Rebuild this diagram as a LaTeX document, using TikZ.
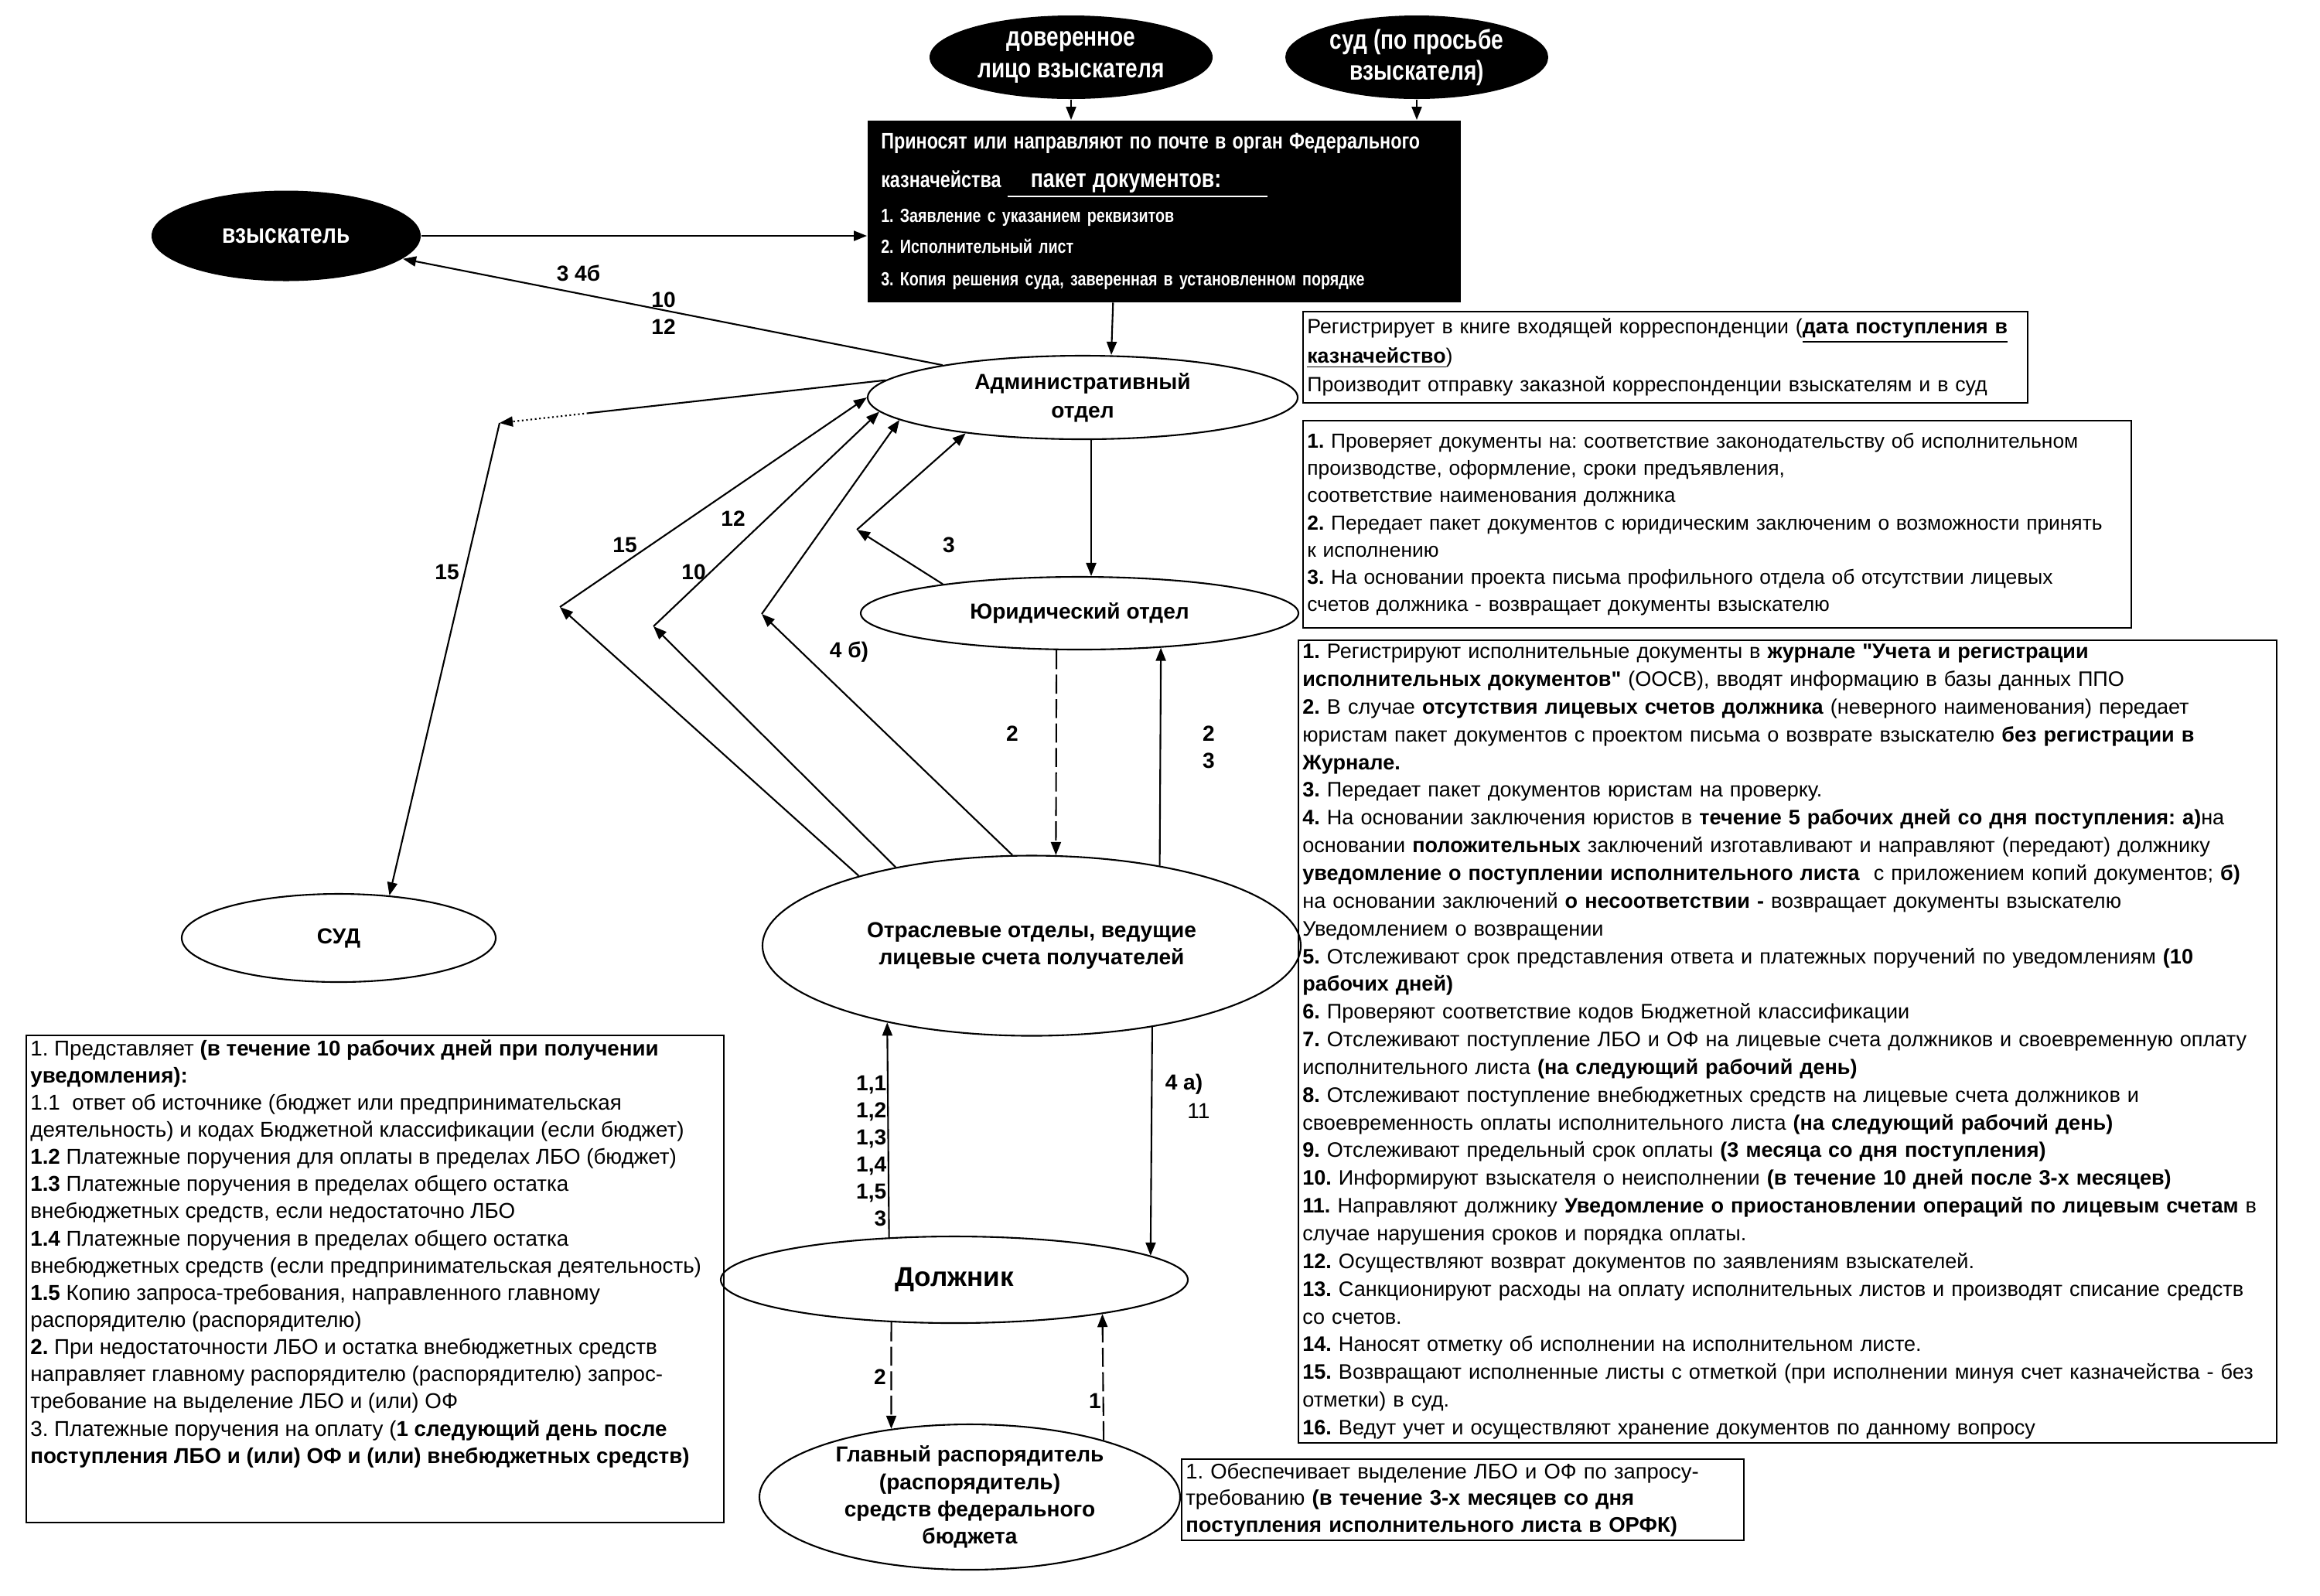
\documentclass[tikz,border=0pt]{standalone}
\usepackage{fontspec}
\setmainfont{Liberation Sans}
\newfontfamily\narrowfont[FakeStretch=0.8]{Liberation Sans}
\usetikzlibrary{shapes.geometric,arrows.meta,calc}
\frenchspacing
\newcommand\dq{{\addfontfeature{Ligatures=TeXOff}"}}

\begin{document}
\begin{tikzpicture}[x=1cm, y=-1cm,
  font=\fontsize{8}{10}\selectfont,
  every node/.style={align=center},
  ell/.style={ellipse, draw, line width=0.6pt, inner sep=0pt, font=\bfseries\fontsize{8}{10.5}\selectfont},
  blk/.style={ellipse, fill=black, text=white, inner sep=0pt, font=\narrowfont\bfseries\fontsize{10}{11.5}\selectfont},
  txt/.style={draw, line width=0.6pt, anchor=north west, align=left, inner xsep=1.5pt, inner ysep=1.5pt},
  lbl/.style={font=\bfseries\fontsize{8}{10}\selectfont, inner sep=0pt},
  arr/.style={-{Triangle[length=1.7mm, width=1.3mm]}, line width=0.6pt},
  darr/.style={arr, dash pattern=on 7pt off 2pt}]
\useasboundingbox (0,0) rectangle (30,20.63);

% ---------------- who brings the package ----------------
\node[blk, minimum width=3.66cm, minimum height=1.08cm] (dov) at (13.85,0.74) {доверенное\\лицо взыскателя};
\node[blk, minimum width=3.40cm, minimum height=1.08cm] (sudp) at (18.32,0.74) {суд (по просьбе\\взыскателя)};
\node[fill=black, text=white, anchor=north west, align=left, inner xsep=5pt, inner ysep=0pt,
  text width=7.32cm, minimum height=2.35cm, font=\narrowfont\bfseries\fontsize{7}{11.5}\selectfont] (pack) at (11.21,1.55)
  {{\fontsize{8.3}{10}\selectfont Приносят или направляют по почте в орган Федерального}\\[2.7pt]
   {\fontsize{8.3}{10}\selectfont казначейства} \underline{\hspace{0.3cm}{\fontsize{9.5}{10}\selectfont пакет документов:}\hspace{0.6cm}}\\[1.3pt]
   1. Заявление с указанием реквизитов\\
   2. Исполнительный лист\\[0.4pt]
   3. Копия решения суда, заверенная в установленном порядке};
\node[blk, minimum width=3.48cm, minimum height=1.17cm] (vzysk) at (3.70,3.05) {взыскатель};

% ---------------- treasury departments ----------------
\node[ell, minimum width=5.56cm, minimum height=1.08cm] (adm) at (14.0,5.14) {Административный\\отдел};
\node[txt, text width=9.26cm, minimum height=1.18cm, font=\fontsize{7.6}{10.7}\selectfont] (admtxt) at (16.84,4.02)
  {Регистрирует в книге входящей корреспонденции (\underline{\textbf{дата поступления в}}\\
   \underline{\textbf{казначейство}})\\
   Производит отправку заказной корреспонденции взыскателям и в суд};
\node[txt, text width=10.60cm, minimum height=2.68cm, font=\fontsize{7.5}{10}\selectfont] (jurtxt) at (16.84,5.43)
  {\textbf{1.} Проверяет документы на: соответствие законодательству об исполнительном\\
   производстве, оформление, сроки предъявления,\\
   соответствие наименования должника\\
   \textbf{2.} Передает пакет документов с юридическим заключеним о возможности принять\\
   к исполнению\\
   \textbf{3.} На основании проекта письма профильного отдела об отсутствии лицевых\\
   счетов должника - возвращает документы взыскателю};
\node[ell, minimum width=5.66cm, minimum height=0.94cm] (jur) at (13.96,7.93) {Юридический отдел};
\node[ell, minimum width=4.06cm, minimum height=1.14cm] (sud) at (4.38,12.13) {СУД};
\node[ell, minimum width=6.96cm, minimum height=2.33cm, font=\bfseries\fontsize{8}{10}\selectfont] (otr) at (13.34,12.23) {Отраслевые отделы, ведущие\\лицевые счета получателей};
\node[txt, text width=12.54cm, minimum height=10.38cm, inner ysep=0.5pt, font=\fontsize{7.7}{10.2}\selectfont] (otrtxt) at (16.78,8.27)
  {\textbf{1.} Регистрируют исполнительные документы в \textbf{журнале \dq Учета и регистрации}\\
   \textbf{исполнительных документов\dq} (ООСВ), вводят информацию в базы данных ППО\\
   \textbf{2.} В случае \textbf{отсутствия лицевых счетов должника} (неверного наименования) передает\\
   юристам пакет документов с проектом письма о возврате взыскателю \textbf{без регистрации в}\\
   \textbf{Журнале.}\\
   \textbf{3.} Передает пакет документов юристам на проверку.\\
   \textbf{4.} На основании заключения юристов в \textbf{течение 5 рабочих дней со дня поступления: а)}на\\
   основании \textbf{положительных} заключений изготавливают и направляют (передают) должнику\\
   \textbf{уведомление о поступлении исполнительного листа}\ \ с приложением копий документов; \textbf{б)}\\
   на основании заключений \textbf{о несоответствии -} возвращает документы взыскателю\\
   Уведомлением о возвращении\\
   \textbf{5.} Отслеживают срок представления ответа и платежных поручений по уведомлениям \textbf{(10}\\
   \textbf{рабочих дней)}\\
   \textbf{6.} Проверяют соответствие кодов Бюджетной классификации\\
   \textbf{7.} Отслеживают поступление ЛБО и ОФ на лицевые счета должников и своевременную оплату\\
   исполнительного листа \textbf{(на следующий рабочий день)}\\
   \textbf{8.} Отслеживают поступление внебюджетных средств на лицевые счета должников и\\
   своевременность оплаты исполнительного листа \textbf{(на следующий рабочий день)}\\
   \textbf{9.} Отслеживают предельный срок оплаты \textbf{(3 месяца со дня поступления)}\\
   \textbf{10.} Информируют взыскателя о неисполнении \textbf{(в течение 10 дней после 3-х месяцев)}\\
   \textbf{11.} Направляют должнику \textbf{Уведомление о приостановлении операций по лицевым счетам} в\\
   случае нарушения сроков и порядка оплаты.\\
   \textbf{12.} Осуществляют возврат документов по заявлениям взыскателей.\\
   \textbf{13.} Санкционируют расходы на оплату исполнительных листов и производят списание средств\\
   со счетов.\\
   \textbf{14.} Наносят отметку об исполнении на исполнительном листе.\\
   \textbf{15.} Возвращают исполненные листы с отметкой (при исполнении минуя счет казначейства - без\\
   отметки) в суд.\\
   \textbf{16.} Ведут учет и осуществляют хранение документов по данному вопросу};

% ---------------- debtor and chief manager ----------------
\node[ell, minimum width=6.04cm, minimum height=1.12cm, font=\bfseries\fontsize{10}{12}\selectfont] (dolzh) at (12.34,16.55) {Должник};
\node[txt, font=\fontsize{7.9}{10}\selectfont] (dolzhtxt) at (0.33,13.38)
  {\parbox[t][6.19cm][t]{8.91cm}{\raggedright
   1. Представляет \textbf{(в течение 10 рабочих дней при получении}\\
   \textbf{уведомления):}\\
   1.1 \ ответ об источнике (бюджет или предпринимательская\\
   деятельность) и кодах Бюджетной классификации (если бюджет)\\
   \textbf{1.2} Платежные поручения для оплаты в пределах ЛБО (бюджет)\\
   \textbf{1.3} Платежные поручения в пределах общего остатка\\
   внебюджетных средств, если недостаточно ЛБО\\
   \textbf{1.4} Платежные поручения в пределах общего остатка\\
   внебюджетных средств (если предпринимательская деятельность)\\
   \textbf{1.5} Копию запроса-требования, направленного главному\\
   распорядителю (распорядителю)\\
   \textbf{2.} При недостаточности ЛБО и остатка внебюджетных средств\\
   направляет главному распорядителю (распорядителю) запрос-\\
   требование на выделение ЛБО и (или) ОФ\\
   3. Платежные поручения на оплату (\textbf{1 следующий день после}\\
   \textbf{поступления ЛБО и (или) ОФ и (или) внебюджетных средств)}}};
\node[ell, minimum width=5.44cm, minimum height=1.88cm, font=\bfseries\fontsize{8}{10}\selectfont] (glav) at (12.54,19.36)
  {Главный распорядитель\\(распорядитель)\\средств федерального\\бюджета};
\node[txt, text width=7.16cm, minimum height=1.04cm, font=\fontsize{7.8}{9.8}\selectfont] (glavtxt) at (15.27,18.86)
  {1. Обеспечивает выделение ЛБО и ОФ по запросу-\\
   требованию \textbf{(в течение 3-х месяцев со дня}\\
   \textbf{поступления исполнительного листа в ОРФК)}};

% ---------------- bend points ----------------
\coordinate (k3) at (11.08,6.85);
\coordinate (kA) at (7.24,7.85);
\coordinate (kB) at (8.45,8.10);
\coordinate (kC) at (9.85,7.94);
\coordinate (sudkink) at (6.46,5.47);
\coordinate (sudmid) at ($(adm.175)!0.77!(sudkink)$);

% ---------------- arrows ----------------
\draw[arr] (dov.south) -- (dov.south |- pack.north);
\draw[arr] (sudp.south) -- (sudp.south |- pack.north);
\draw[arr] (vzysk.east) -- (vzysk.east -| pack.west);
\draw[arr] (adm.167) -- (vzysk);
\draw[arr] ([xshift=-6.6mm]pack.south) -- ([xshift=3.7mm]adm.north);
\draw[arr] ([xshift=1.1mm]adm.south) -- ([xshift=1.1mm]adm.south |- jur.north);
\draw[arr] (jur.168) -- (k3);
\draw[arr] (k3) -- (adm.197);
\draw[line width=0.6pt] (adm.175) -- (sudmid);
\draw[arr, densely dotted] (sudmid) -- (sudkink);
\draw[arr] (sudkink) -- (sud.40);
\draw[arr] (otr.158) -- (kA);
\draw[arr] (kA) -- (adm.west);
\draw[arr] (otr.150) -- (kB);
\draw[arr] (kB) -- (adm.184);
\draw[arr] (otr.102) -- (kC);
\draw[arr] (kC) -- (adm.187);
\draw[darr] (jur.238) -- (otr.75);
\draw[arr] (otr.32) -- (jur.-23);
\draw[arr] (dolzh.147) -- (otr.208);
\draw[arr] (otr.-34) -- (dolzh.7);
\draw[darr] (dolzh.214) -- (glav.139);
\draw[darr] (glav.23) -- (dolzh.-13);

% ---------------- step numbers ----------------
\node[lbl] (l34b) at (7.48,3.53) {3 4б};
\node[lbl] (l1012) at (8.58,4.05) {10\\12};
\node[lbl] (l15s) at (5.78,7.40) {15};
\node[lbl] (l15) at (8.08,7.05) {15};
\node[lbl] (l12) at (9.48,6.71) {12};
\node[lbl] (l10) at (8.97,7.40) {10};
\node[lbl] (l3) at (12.27,7.05) {3};
\node[lbl] (l4b) at (10.98,8.43) {4 б)};
\node[lbl] (l2a) at (13.09,9.49) {2};
\node[lbl] (l23) at (15.63,9.66) {2\\3};
\node[lbl, anchor=north east, align=right] (l11to3) at (11.47,13.90) {1,1\\1,2\\1,3\\1,4\\1,5\\3};
\node[lbl] (l4a) at (15.31,14.02) {4 а)};
\node[lbl, font=\fontsize{8}{10}\selectfont] (l11) at (15.50,14.37) {11};
\node[lbl] (l2b) at (11.38,17.81) {2};
\node[lbl] (l1) at (14.16,18.12) {1};
\end{tikzpicture}
\end{document}
